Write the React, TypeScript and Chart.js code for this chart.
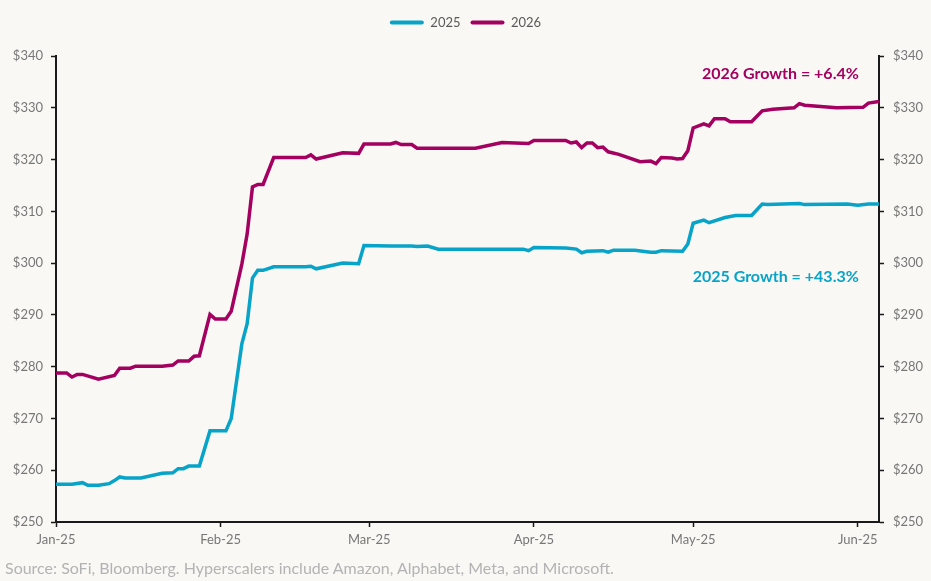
import React, { useEffect, useRef } from "react";
import { Chart, registerables } from "chart.js";

Chart.register(...registerables);

// ---- data ----
const seriesNames = ["2025", "2026"];

// day index counted from Jan 1, 2025
const days2025 = [0, 3, 5, 6, 8, 10, 11, 12, 13, 16, 20, 22, 23, 24, 25, 27, 29, 32, 33, 35, 36, 37, 38, 39, 41, 47, 48, 49, 54, 57, 58, 63, 67, 68, 70, 72, 88, 89, 90, 96, 98, 99, 100, 103, 104, 105, 109, 112, 113, 114, 118, 119, 120, 122, 123, 126, 128, 131, 133, 134, 140, 141, 149, 151, 153, 155];
const eps2025 = [257.3, 257.3, 257.6, 257.1, 257.1, 257.4, 258.0, 258.7, 258.5, 258.5, 259.4, 259.5, 260.3, 260.3, 260.8, 260.8, 267.6, 267.6, 270.0, 284.4, 288.3, 297.1, 298.6, 298.6, 299.3, 299.3, 299.4, 298.9, 300.0, 299.9, 303.4, 303.3, 303.3, 303.2, 303.3, 302.7, 302.7, 302.4, 303.0, 302.9, 302.7, 302.0, 302.3, 302.4, 302.1, 302.5, 302.5, 302.1, 302.1, 302.4, 302.3, 303.7, 307.7, 308.3, 307.8, 308.8, 309.2, 309.2, 311.4, 311.3, 311.5, 311.3, 311.4, 311.2, 311.4, 311.4];

const days2026 = [0, 2, 3, 4, 5, 8, 11, 12, 14, 15, 20, 22, 23, 25, 26, 27, 29, 30, 32, 33, 35, 36, 37, 38, 39, 41, 47, 48, 49, 54, 57, 58, 63, 64, 65, 67, 68, 79, 84, 89, 90, 96, 97, 98, 99, 100, 101, 102, 103, 104, 106, 110, 112, 113, 114, 116, 117, 118, 119, 120, 122, 123, 124, 126, 127, 131, 133, 135, 139, 140, 141, 147, 152, 153, 155];
const eps2026 = [278.8, 278.8, 278.0, 278.5, 278.5, 277.6, 278.3, 279.7, 279.7, 280.1, 280.1, 280.3, 281.1, 281.1, 282.0, 282.1, 290.1, 289.2, 289.2, 290.7, 299.8, 305.6, 314.7, 315.2, 315.2, 320.4, 320.4, 320.9, 320.1, 321.3, 321.2, 323.0, 323.0, 323.3, 322.9, 322.9, 322.2, 322.2, 323.3, 323.1, 323.7, 323.7, 323.2, 323.4, 322.3, 323.2, 323.2, 322.3, 322.4, 321.5, 321.0, 319.6, 319.7, 319.2, 320.4, 320.3, 320.1, 320.2, 321.7, 326.1, 326.9, 326.5, 327.9, 327.9, 327.3, 327.3, 329.4, 329.7, 330.0, 330.8, 330.5, 330.0, 330.1, 330.9, 331.2];

const monthStartDays = [0, 31, 59, 90, 120, 151];
const monthLabels = ["Jan-25", "Feb-25", "Mar-25", "Apr-25", "May-25", "Jun-25"];
const xMaxDay = 155;
const yMin = 250;
const yMax = 340;
const yStep = 10;

const annotationTexts = ["2026 Growth = +6.4%", "2025 Growth = +43.3%"];
const annotationDays = [151.2, 151.2];
const annotationValues = [336.5, 297.4];

const sourceNote = "Source: SoFi, Bloomberg. Hyperscalers include Amazon, Alphabet, Meta, and Microsoft.";

// ---- styles ----
const CYAN = "#07A3C8";
const MAGENTA = "#A3005F";
const BG = "#F9F8F5";
const TICK_GRAY = "#777777";
const AXIS_BLACK = "#1a1a1a";
const FONT = "Lato, 'Open Sans', sans-serif";
const annotationColors = [MAGENTA, CYAN];
const LEGEND_EXTRA_GAP = 17;

const legendGapPlugin = {
  id: "legendGap",
  afterInit(chart: any) {
    const lg = chart.legend;
    if (!lg) return;
    const orig = lg.fit.bind(lg);
    lg.fit = function () {
      orig();
      lg.height += LEGEND_EXTRA_GAP;
    };
  },
};

const annotationPlugin = {
  id: "growthNotes",
  afterDatasetsDraw(chart: any) {
    const { ctx, scales } = chart;
    const x = scales.x;
    const y = scales.y;
    ctx.save();
    ctx.font = `bold 16px ${FONT}`;
    ctx.textAlign = "right";
    ctx.textBaseline = "middle";
    annotationTexts.forEach((t, i) => {
      ctx.fillStyle = annotationColors[i];
      ctx.fillText(t, x.getPixelForValue(annotationDays[i]), y.getPixelForValue(annotationValues[i]));
    });
    ctx.restore();
  },
};

export default function App() {
  const canvasRef = useRef<HTMLCanvasElement | null>(null);

  useEffect(() => {
    if (!canvasRef.current) return;
    const yAxisCommon = (position: "left" | "right", width: number) => ({
      position,
      min: yMin,
      max: yMax,
      ticks: {
        stepSize: yStep,
        color: TICK_GRAY,
        font: { family: FONT, size: 13 },
        padding: position === "left" ? 8 : 9,
        callback: (v: any) => "$" + v,
      },
      grid: {
        display: true,
        drawOnChartArea: false,
        drawTicks: true,
        tickLength: 5,
        tickColor: AXIS_BLACK,
        tickWidth: 1.5,
      },
      border: { display: true, color: AXIS_BLACK, width: 2 },
      afterFit: (s: any) => {
        s.width = width;
      },
    });

    const chart = new Chart(canvasRef.current, {
      type: "line",
      data: {
        datasets: [
          {
            label: seriesNames[0],
            data: days2025.map((d, i) => ({ x: d, y: eps2025[i] })),
            borderColor: CYAN,
            backgroundColor: CYAN,
            borderWidth: 3.5,
            pointRadius: 0,
            tension: 0,
            yAxisID: "y",
          },
          {
            label: seriesNames[1],
            data: days2026.map((d, i) => ({ x: d, y: eps2026[i] })),
            borderColor: MAGENTA,
            backgroundColor: MAGENTA,
            borderWidth: 3.5,
            pointRadius: 0,
            tension: 0,
            yAxisID: "y",
          },
        ],
      },
      options: {
        responsive: false,
        animation: false,
        layout: { padding: { top: 6, left: 0, right: 0, bottom: 0 } },
        plugins: {
          legend: {
            display: true,
            position: "top",
            labels: {
              boxWidth: 34,
              boxHeight: 4,
              useBorderRadius: true,
              borderRadius: 2,
              color: "#595959",
              font: { family: FONT, size: 13 },
              padding: 10,
              generateLabels: (chart: any) =>
                Chart.defaults.plugins.legend.labels.generateLabels(chart).map((l: any) => ({ ...l, lineWidth: 0 })),
            },
          },
          tooltip: { enabled: false },
        },
        scales: {
          x: {
            type: "linear",
            min: 0,
            max: xMaxDay,
            afterBuildTicks: (s: any) => {
              s.ticks = monthStartDays.map((v) => ({ value: v }));
            },
            ticks: {
              autoSkip: false,
              maxRotation: 0,
              color: TICK_GRAY,
              font: { family: FONT, size: 13 },
              padding: 5,
              callback: (v: any) => {
                const idx = monthStartDays.indexOf(Number(v));
                return idx >= 0 ? monthLabels[idx] : "";
              },
            },
            grid: {
              display: true,
              drawOnChartArea: false,
              drawTicks: true,
              tickLength: 5,
              tickColor: AXIS_BLACK,
              tickWidth: 1.5,
            },
            border: { display: true, color: AXIS_BLACK, width: 2 },
            afterFit: (s: any) => {
              s.height = 59;
            },
          },
          y: yAxisCommon("left", 56) as any,
          y1: yAxisCommon("right", 52) as any,
        },
      },
      plugins: [legendGapPlugin, annotationPlugin],
    });
    return () => chart.destroy();
  }, []);

  return (
    <div
      style={{
        position: "absolute",
        left: 0,
        top: 0,
        width: 931,
        height: 581,
        background: BG,
        overflow: "hidden",
      }}
    >
      <canvas ref={canvasRef} width={931} height={581} style={{ width: 931, height: 581, display: "block" }} />
      <div
        style={{
          position: "absolute",
          left: 5,
          top: 558,
          fontFamily: FONT,
          fontSize: 16,
          color: "#b3b3b3",
          whiteSpace: "nowrap",
        }}
      >
        {sourceNote}
      </div>
    </div>
  );
}
